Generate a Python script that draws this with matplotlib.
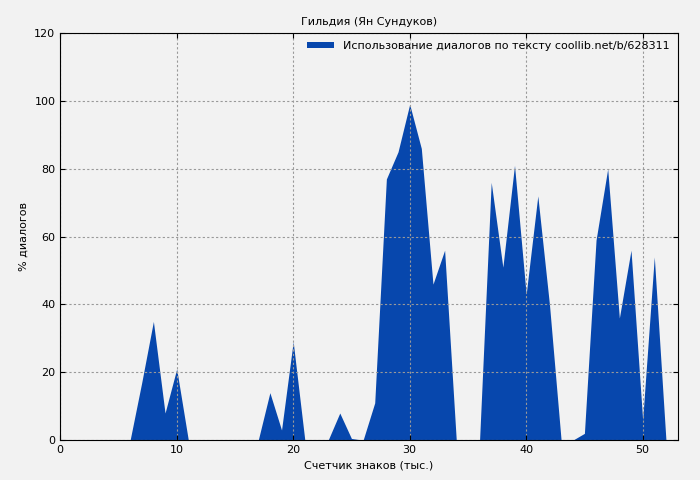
import matplotlib
matplotlib.use("Agg")
import matplotlib.pyplot as plt
import numpy as np

# data
x_vals = [0, 1, 2, 3, 4, 5, 6, 7, 8, 9, 10, 11, 12, 13, 14, 15, 16, 17, 18, 19, 20,
          21, 22, 23, 24, 25, 26, 27, 28, 29, 30, 31, 32, 33, 34, 35, 36, 37, 38, 39, 40,
          41, 42, 43, 44, 45, 46, 47, 48, 49, 50, 51, 52]
y_vals = [0, 0, 0, 0, 0, 0, 0, 17, 35, 8, 21, 0, 0, 0, 0, 0, 0, 0, 14, 3, 29,
          0, 0, 0, 8, 0.5, 0, 11, 77, 85, 99, 86, 46, 56, 0, 0, 0, 76, 51, 81, 43,
          72, 40, 0, 0, 2, 59, 80, 36, 56, 6, 54, 0]

blue = "#0747ad"
bg = "#f2f2f2"

fig, ax = plt.subplots(figsize=(7, 4.8), dpi=100)
fig.patch.set_facecolor(bg)
ax.set_facecolor(bg)
fig.subplots_adjust(left=0.086, right=0.968, top=0.931, bottom=0.083)

ax.fill_between(x_vals, y_vals, 0, color=blue, linewidth=0,
                label="Использование диалогов по тексту coollib.net/b/628311")

ax.set_xlim(0, 53)
ax.set_ylim(0, 120)
ax.set_xticks(np.arange(0, 51, 10))
ax.set_yticks(np.arange(0, 121, 20))
ax.tick_params(labelsize=8, direction="in", top=True, right=True)
ax.grid(True, color="#999999", linestyle=(0, (2, 2)), linewidth=0.8)
ax.set_xlabel("Счетчик знаков (тыс.)", fontsize=8)
ax.set_ylabel("% диалогов", fontsize=8)
ax.set_title("Гильдия (Ян Сундуков)", fontsize=8)

ax.legend(loc="upper right", fontsize=8, frameon=False, handlelength=2.5,
          handleheight=0.4, borderaxespad=0.3)

fig.savefig("out.png", dpi=100, facecolor=bg)
